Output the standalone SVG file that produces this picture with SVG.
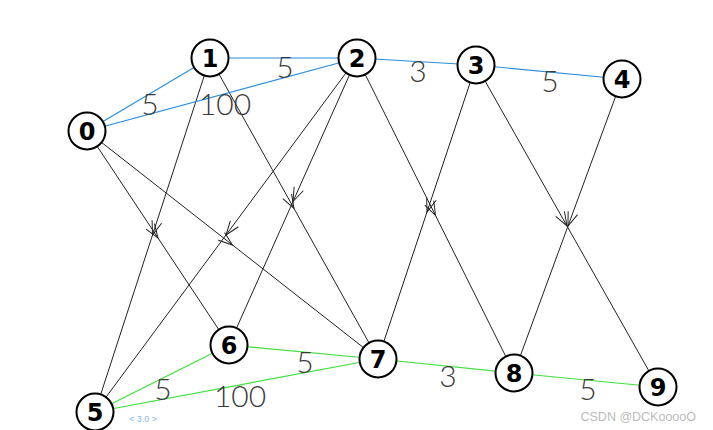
<svg xmlns="http://www.w3.org/2000/svg" width="713" height="430" viewBox="0 0 713 430">
<style>
.e{fill:none;stroke:#222;stroke-width:1;marker-mid:url(#arr)}
.b{fill:none;stroke:#2a8ee0;stroke-width:1.2}
.g{fill:none;stroke:#3ee03e;stroke-width:1.2}
.n circle{fill:#fff;stroke:#000;stroke-width:2}
.n text{font-family:"DejaVu Sans","Liberation Sans",sans-serif;font-weight:bold;font-size:24px;text-anchor:middle;fill:#000}
.w{font-family:"Lato","Liberation Sans",sans-serif;font-weight:300;font-size:30px;fill:#3a3a3a;text-anchor:middle}
</style>
<defs>
<marker id="arr" markerUnits="userSpaceOnUse" markerWidth="30" markerHeight="30" viewBox="-15 -15 30 30" refX="0" refY="0" orient="auto">
<path d="M-14,-5 L0,0 L-14,5" fill="none" stroke="#222" stroke-width="1"/>
</marker>
</defs>
<rect width="713" height="430" fill="#fff"/>
<g id="connectors">
<path class="e" d="M87,131 L158,238 L229,345"/>
<path class="e" d="M210,58 L152.5,235 L95,412"/>
<path class="e" d="M87,131 L232.5,245 L378,359"/>
<path class="e" d="M357,58 L226,235 L95,412"/>
<path class="e" d="M210,58 L294,208.5 L378,359"/>
<path class="e" d="M357,58 L293,201.5 L229,345"/>
<path class="e" d="M357,58 L435.5,215.5 L514,373"/>
<path class="e" d="M476,65 L427,212 L378,359"/>
<path class="e" d="M476,65 L567,226 L658,387"/>
<path class="e" d="M622,79 L568,226 L514,373"/>
<line class="b" x1="87" y1="131" x2="210" y2="58"/>
<line class="b" x1="87" y1="131" x2="357" y2="58"/>
<line class="b" x1="210" y1="58" x2="357" y2="58"/>
<line class="b" x1="357" y1="58" x2="476" y2="65"/>
<line class="b" x1="476" y1="65" x2="622" y2="79"/>
<line class="g" x1="95" y1="412" x2="229" y2="345"/>
<line class="g" x1="95" y1="412" x2="378" y2="359"/>
<line class="g" x1="229" y1="345" x2="378" y2="359"/>
<line class="g" x1="378" y1="359" x2="514" y2="373"/>
<line class="g" x1="514" y1="373" x2="658" y2="387"/>
<text class="w" x="150" y="115">5</text>
<text class="w" x="225" y="115">100</text>
<text class="w" x="285" y="78">5</text>
<text class="w" x="418" y="82">3</text>
<text class="w" x="550" y="92">5</text>
<text class="w" x="163" y="400">5</text>
<text class="w" x="240" y="407">100</text>
<text class="w" x="305" y="373">5</text>
<text class="w" x="448" y="387">3</text>
<text class="w" x="588" y="400">5</text>
</g>
<g id="node0" class="n"><circle cx="87" cy="131" r="18.5"/><text x="87" y="139.5">0</text></g>
<g id="node1" class="n"><circle cx="210" cy="58" r="18.5"/><text x="210" y="66.5">1</text></g>
<g id="node2" class="n"><circle cx="357" cy="58" r="18.5"/><text x="357" y="66.5">2</text></g>
<g id="node3" class="n"><circle cx="476" cy="65" r="18.5"/><text x="476" y="73.5">3</text></g>
<g id="node4" class="n"><circle cx="622" cy="79" r="18.5"/><text x="622" y="87.5">4</text></g>
<g id="node5" class="n"><circle cx="95" cy="412" r="18.5"/><text x="95" y="420.5">5</text></g>
<g id="node6" class="n"><circle cx="229" cy="345" r="18.5"/><text x="229" y="353.5">6</text></g>
<g id="node7" class="n"><circle cx="378" cy="359" r="18.5"/><text x="378" y="367.5">7</text></g>
<g id="node8" class="n"><circle cx="514" cy="373" r="18.5"/><text x="514" y="381.5">8</text></g>
<g id="node9" class="n"><circle cx="658" cy="387" r="18.5"/><text x="658" y="395.5">9</text></g>
<text x="129" y="422" font-family="'Liberation Sans',sans-serif" font-size="9" fill="#8ab4f0">&lt; 3.0 &gt;</text>
<text x="696" y="421" font-family="'Liberation Sans',sans-serif" font-size="12.5" fill="#bbb" text-anchor="end">CSDN @DCKooooO</text>
</svg>
